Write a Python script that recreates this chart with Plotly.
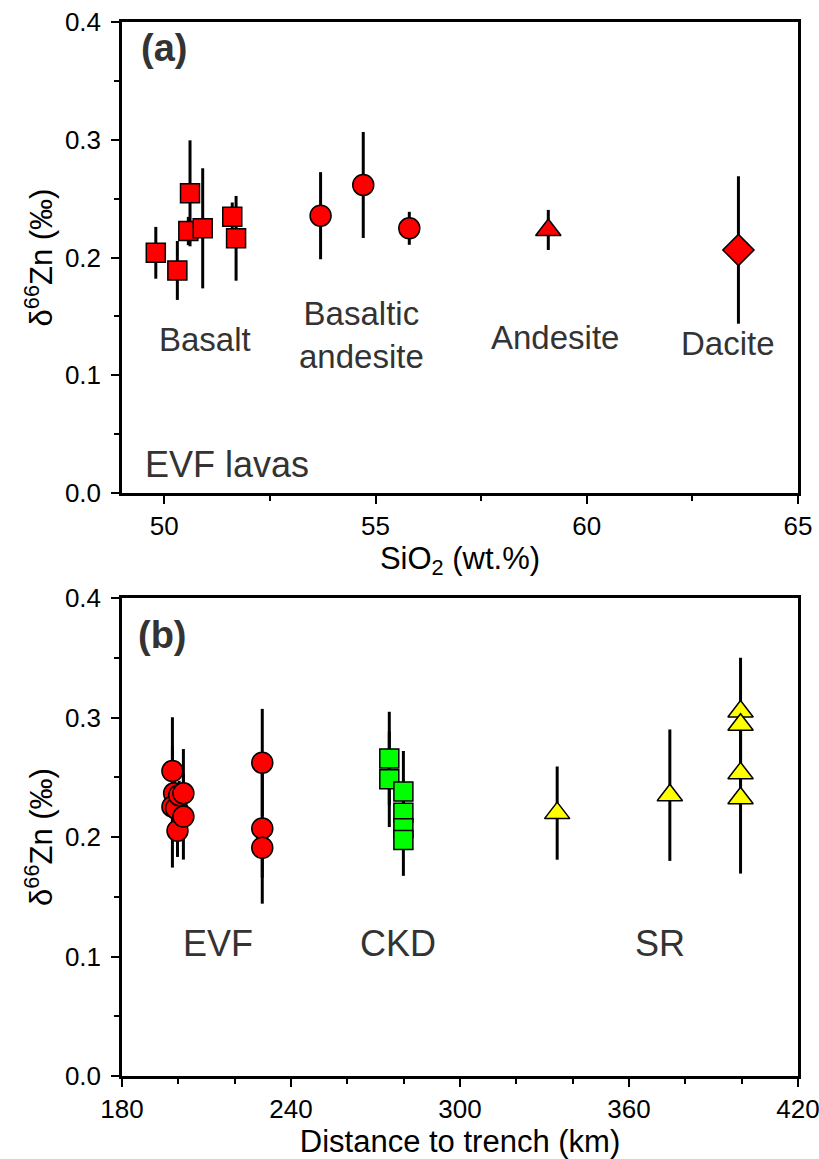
import plotly.graph_objects as go

# ---------------- Panel (a): SiO2 vs d66Zn ----------------
basalt_sio2 = [49.80, 50.31, 50.61, 50.57, 50.91, 51.61, 51.70]
basalt_zn = [0.204, 0.189, 0.2545, 0.2225, 0.2248, 0.2347, 0.2163]
basalt_err = [0.022, 0.025, 0.045, 0.012, 0.051, 0.012, 0.036]

ba_sio2 = [53.70, 54.71, 55.80]
ba_zn = [0.2355, 0.2616, 0.2248]
ba_err = [0.037, 0.045, 0.014]

andesite_sio2 = [59.09]
andesite_zn = [0.2234]
andesite_err = [0.017]

dacite_sio2 = [63.59]
dacite_zn = [0.2064]
dacite_err = [0.0626]

# ---------------- Panel (b): distance to trench vs d66Zn ----------------
evf_dist = [197.9, 198.5, 197.9, 199.7, 199.2, 200.3, 199.7, 201.8, 201.8, 229.8, 229.8, 229.8]
evf_zn = [0.2552, 0.2366, 0.2254, 0.2230, 0.2240, 0.2350, 0.2053, 0.2366, 0.2171, 0.2622, 0.2072, 0.1910]
evf_err = [0.045, 0.012, 0.051, 0.012, 0.014, 0.012, 0.022, 0.037, 0.036, 0.045, 0.063, 0.025]

ckd_dist = [274.9, 274.9, 279.9, 279.9, 279.9, 279.9]
ckd_zn = [0.2658, 0.2483, 0.2380, 0.2204, 0.2073, 0.1975]
ckd_err = [0.039, 0.040, 0.034, 0.015, 0.015, 0.030]

sr_dist = [334.5, 374.5, 399.6, 399.6, 399.6, 399.6]
sr_zn = [0.220, 0.235, 0.305, 0.294, 0.2533, 0.2324]
sr_err = [0.039, 0.055, 0.045, 0.020, 0.020, 0.063]

RED = "#FF0000"
GREEN = "#00FF00"
YELLOW = "#FFFF00"
SANS = "Liberation Sans, Arial, sans-serif"
TXT = "#333333"


def pts(x, y, err, symbol, size, color, xa, ya):
    return go.Scatter(
        x=x, y=y, mode="markers", xaxis=xa, yaxis=ya, showlegend=False,
        marker=dict(symbol=symbol, size=size, color=color,
                    line=dict(color="black", width=1.5)),
        error_y=dict(type="data", array=err, visible=True, color="black",
                     thickness=3, width=0),
    )


fig = go.Figure()
fig.add_trace(pts(basalt_sio2, basalt_zn, basalt_err, "square", 19, RED, "x", "y"))
fig.add_trace(pts(ba_sio2, ba_zn, ba_err, "circle", 21, RED, "x", "y"))
fig.add_trace(pts(andesite_sio2, andesite_zn, andesite_err, "triangle-up", 22, RED, "x", "y"))
fig.add_trace(pts(dacite_sio2, dacite_zn, dacite_err, "diamond", 24, RED, "x", "y"))

fig.add_trace(pts(evf_dist, evf_zn, evf_err, "circle", 21, RED, "x2", "y2"))
fig.add_trace(pts(ckd_dist, ckd_zn, ckd_err, "square", 19, GREEN, "x2", "y2"))
fig.add_trace(pts(sr_dist, sr_zn, sr_err, "triangle-up", 22, YELLOW, "x2", "y2"))

axis_common = dict(
    showline=True, linecolor="black", linewidth=2.5, mirror=True,
    ticks="outside", ticklen=8, tickwidth=2, tickcolor="black",
    showgrid=False, zeroline=False, automargin=False,
    ticklabeloverflow="allow",
    tickfont=dict(family=SANS, size=26, color="black"),
)
minor_common = dict(ticks="outside", ticklen=5, tickwidth=2, tickcolor="black")

ytitle = "δ<sup>66</sup>Zn (‰)"
title_font = dict(family=SANS, size=31, color="black")

fig.update_layout(
    width=819, height=1159,
    margin=dict(l=122, r=21, t=22, b=83),
    plot_bgcolor="white", paper_bgcolor="white",
    xaxis=dict(axis_common, range=[49, 65], dtick=5, tick0=50,
               minor=dict(minor_common, dtick=2.5, tick0=50),
               anchor="y",
               title=dict(text="SiO<sub>2</sub> (wt.%)", font=title_font, standoff=0)),
    yaxis=dict(axis_common, range=[0, 0.4], dtick=0.1, tickformat=".1f",
               ticklabelstandoff=5,
               minor=dict(minor_common, dtick=0.05),
               domain=[0.5531, 1], anchor="x",
               title=dict(text=ytitle, font=title_font, standoff=4)),
    xaxis2=dict(axis_common, range=[180, 420], dtick=60, tick0=180,
                minor=dict(minor_common, dtick=20, tick0=180),
                anchor="y2",
                title=dict(text="Distance to trench (km)", font=title_font, standoff=2)),
    yaxis2=dict(axis_common, range=[0, 0.4], dtick=0.1, tickformat=".1f",
                ticklabelstandoff=5,
                minor=dict(minor_common, dtick=0.05),
                domain=[0, 0.4535], anchor="x2",
                title=dict(text=ytitle, font=title_font, standoff=4)),
)


def label(text, x, y, xref, yref, size=33, bold=False, xanchor="center"):
    fig.add_annotation(
        text=f"<b>{text}</b>" if bold else text, x=x, y=y, xref=xref, yref=yref,
        showarrow=False, xanchor=xanchor, yanchor="middle",
        font=dict(family=SANS, size=size, color=TXT),
    )


label("(a)", 50.0, 0.378, "x", "y", size=38, bold=True)
label("Basalt", 50.96, 0.130, "x", "y")
label("Basaltic<br>andesite", 54.68, 0.134, "x", "y")
label("Andesite", 59.25, 0.1325, "x", "y")
label("Dacite", 63.34, 0.127, "x", "y")
label("EVF lavas", 49.5, 0.024, "x", "y", size=36, xanchor="left")

label("(b)", 194.5, 0.369, "x2", "y2", size=38, bold=True)
label("EVF", 214.1, 0.1105, "x2", "y2", size=36)
label("CKD", 278.0, 0.1105, "x2", "y2", size=36)
label("SR", 371.0, 0.1105, "x2", "y2", size=36)

fig.write_html("out.html")
